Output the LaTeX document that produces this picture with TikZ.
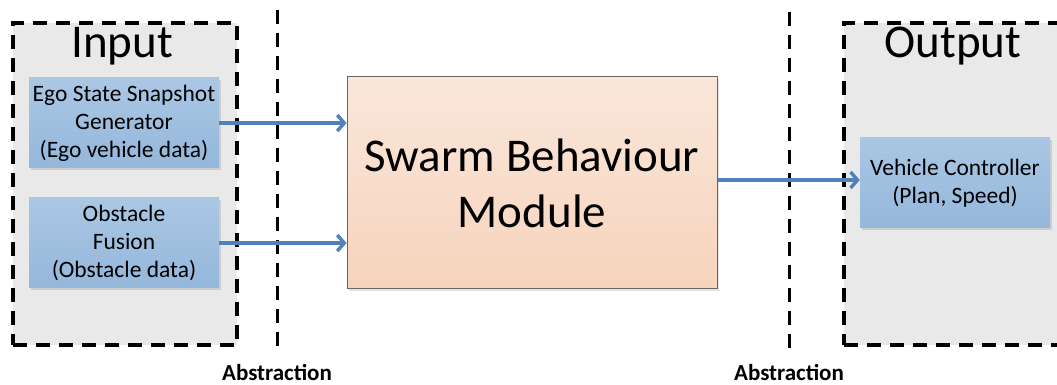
\documentclass[tikz,border=0pt]{standalone}
\usepackage{fontspec}
\setmainfont{Carlito}
\usetikzlibrary{arrows.meta,shadows,calc}
\definecolor{arrowblue}{RGB}{79,129,189}
\definecolor{zonegray}{RGB}{233,233,233}
\definecolor{bluetop}{RGB}{170,199,228}
\definecolor{bluebot}{RGB}{148,183,219}
\definecolor{peachtop}{RGB}{250,231,218}
\definecolor{peachbot}{RGB}{246,211,188}
\tikzset{
  zone/.style={draw=black, line width=3.2pt, dash pattern=on 14pt off 9pt, fill=zonegray, minimum width=224pt, minimum height=322pt, inner sep=0pt},
  bluebox/.style={top color=bluetop, bottom color=bluebot, draw=none, minimum width=190pt, minimum height=90pt, align=center, font=\fontsize{23.5}{28}\selectfont, inner sep=0pt, drop shadow={opacity=0.25, shadow xshift=2pt, shadow yshift=-2pt}},
  mainbox/.style={top color=peachtop, bottom color=peachbot, draw=gray!80!black, line width=1pt, minimum width=370pt, minimum height=212pt, align=center, font=\fontsize{47}{56}\selectfont, inner sep=0pt, drop shadow={opacity=0.2, shadow xshift=2pt, shadow yshift=-2pt}},
  absline/.style={draw=black, line width=3pt, dash pattern=on 14pt off 9pt},
  abslabel/.style={font=\fontsize{23}{25}\selectfont\bfseries, anchor=base, inner sep=1pt},
  flow/.style={draw=arrowblue, line width=3.6pt, -{Straight Barb[length=7pt,width=16pt,line width=3.4pt]}},
  title/.style={font=\fontsize{47}{52}\selectfont}
}
\begin{document}
\begin{tikzpicture}[x=1pt,y=1pt]
\clip (0,0) rectangle (1057,385);
\fill[white] (0,0) rectangle (1057,385);
% zones
\node[zone] (inzone) at (125,201) {};
\node[zone] (outzone) at (956,201) {};
\node[title] (intitle) at (122,339) {Input};
\node[title] (outtitle) at (953,339) {Output};
% abstraction lines
\coordinate (a1top) at (277,375);
\coordinate (a1bot) at (277,38);
\coordinate (a2top) at (789,373);
\coordinate (a2bot) at (789,35);
\draw[absline] (a1top) -- (a1bot);
\draw[absline] (a2top) -- (a2bot);
\node[abslabel] (lab1) at (277,4) {Abstraction};
\node[abslabel] (lab2) at (789,4) {Abstraction};
% boxes
\node[bluebox] (ego) at (124,262) {Ego State Snapshot\\Generator\\(Ego vehicle data)};
\node[bluebox] (obs) at (124,142) {Obstacle\\Fusion\\(Obstacle data)};
\node[bluebox] (veh) at (955,202) {Vehicle Controller\\(Plan, Speed)};
\node[mainbox] (swarm) at (532,202) {Swarm Behaviour\\Module};
% connectors
\draw[flow] (ego.east) -- (ego.east -| swarm.west);
\draw[flow] (obs.east) -- (obs.east -| swarm.west);
\draw[flow] ($(swarm.east)+(0,3)$) -- ($(veh.west)+(0,3)$);
\end{tikzpicture}
\end{document}
